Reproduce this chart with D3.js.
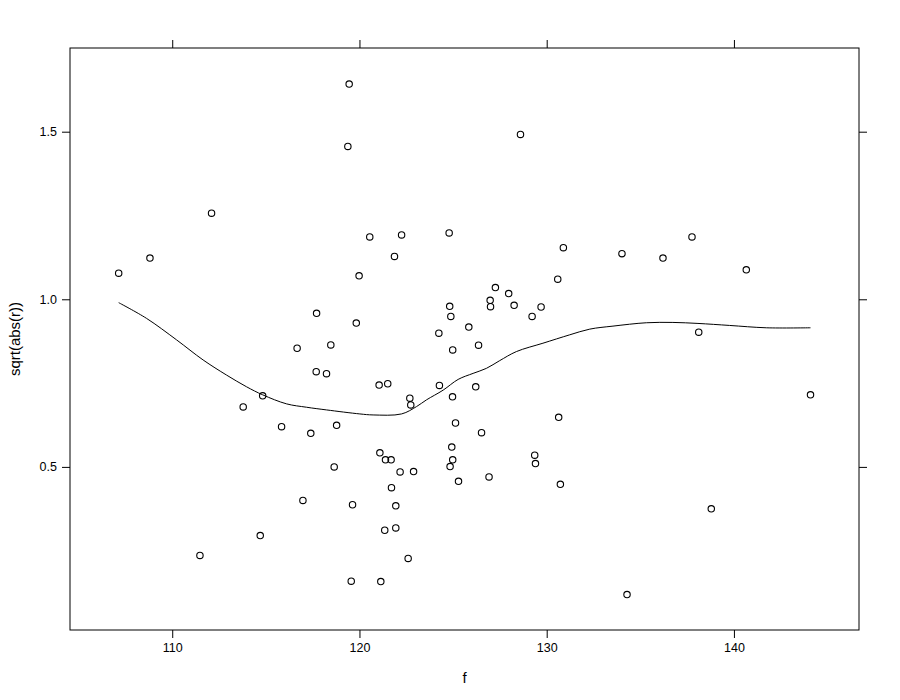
<!DOCTYPE html>
<html>
<head>
<meta charset="utf-8">
<script src="https://cdn.jsdelivr.net/npm/d3@7"></script>
<style>
  html, body { margin: 0; padding: 0; background: #fff; }
  svg { display: block; font-family: "Liberation Sans", Arial, Helvetica, sans-serif; }
</style>
</head>
<body>
<svg id="chart" width="900" height="700"></svg>
<script>
// ---- data ----
const fValues = [107.14,108.81,112.10,113.79,114.83,111.48,114.70,115.84,116.67,116.98,
  117.40,117.71,117.69,118.24,118.47,118.65,118.78,119.45,119.38,119.63,
  119.56,119.83,119.98,120.55,122.25,124.79,121.87,121.05,121.51,121.09,
  121.39,121.69,121.14,121.35,121.94,121.94,121.71,122.17,122.89,122.60,
  122.69,122.74,124.24,124.27,124.82,124.88,124.98,124.97,125.13,124.93,
  124.98,124.84,125.29,125.84,126.36,126.21,126.52,126.92,126.98,127.00,
  127.26,127.97,128.26,128.60,129.22,129.70,129.36,129.40,130.59,130.89,
  130.64,130.73,134.02,134.29,136.21,137.76,138.12,138.79,140.66,144.09];
const rValues = [1.078,1.123,1.257,0.679,0.712,0.236,0.295,0.620,0.854,0.400,
  0.600,0.958,0.784,0.778,0.864,0.500,0.624,1.642,1.456,0.387,
  0.159,0.929,1.070,1.186,1.192,1.198,1.128,0.744,0.748,0.542,
  0.521,0.521,0.158,0.311,0.318,0.384,0.438,0.485,0.486,0.227,
  0.705,0.685,0.899,0.743,0.979,0.949,0.849,0.709,0.631,0.559,
  0.521,0.501,0.457,0.917,0.863,0.739,0.602,0.470,0.997,0.978,
  1.035,1.017,0.982,1.492,0.949,0.977,0.535,0.510,1.060,1.154,
  0.648,0.448,1.136,0.119,1.123,1.186,0.902,0.375,1.088,0.715];

// smooth (loess) curve
const smoothF = [107.14,108.63,110.23,111.65,112.90,113.97,114.83,116.11,117.17,118.24,
  120.02,120.73,122.25,123.05,123.58,124.47,125.27,126.07,126.78,127.49,
  128.38,129.80,131.23,132.30,133.54,135.32,136.74,138.08,139.77,141.73,144.09];
const smoothR = [0.990,0.943,0.879,0.819,0.774,0.739,0.715,0.688,0.678,0.670,
  0.658,0.655,0.658,0.680,0.700,0.729,0.761,0.779,0.794,0.817,
  0.844,0.869,0.894,0.911,0.920,0.930,0.931,0.928,0.922,0.915,0.915];

const xTicks = [110, 120, 130, 140];
const yTicks = [0.5, 1.0, 1.5];
const xLabel = "f";
const yLabel = "sqrt(abs(r))";

// ---- layout ----
const svg = d3.select("#chart");
const L = 70, R = 859, T = 48, B = 630;
const x = d3.scaleLinear().domain([104.54, 146.68]).range([L, R]);
const y = d3.scaleLinear().domain([0.0134, 1.7497]).range([B, T]);
const ink = "#000";
const tickLen = 8;

const axStyle = g => {
  g.select(".domain").remove();
  g.selectAll(".tick line").attr("stroke", ink).attr("stroke-width", 1);
  g.selectAll(".tick text").attr("fill", ink).style("font-size", "12.5px")
    .style("font-family", "'Liberation Sans', Arial, sans-serif");
};

svg.append("g").attr("transform", `translate(0,${B})`)
  .call(d3.axisBottom(x).tickValues(xTicks).tickFormat(d3.format("d")).tickSizeInner(tickLen).tickSizeOuter(0).tickPadding(5))
  .call(axStyle);
svg.append("g").attr("transform", `translate(0,${T})`)
  .call(d3.axisTop(x).tickValues(xTicks).tickFormat("").tickSizeInner(tickLen).tickSizeOuter(0))
  .call(axStyle);
svg.append("g").attr("transform", `translate(${L},0)`)
  .call(d3.axisLeft(y).tickValues(yTicks).tickFormat(d3.format(".1f")).tickSizeInner(tickLen).tickSizeOuter(0).tickPadding(5))
  .call(axStyle);
svg.append("g").attr("transform", `translate(${R},0)`)
  .call(d3.axisRight(y).tickValues(yTicks).tickFormat("").tickSizeInner(tickLen).tickSizeOuter(0))
  .call(axStyle);

// panel frame
svg.append("rect").attr("x", L).attr("y", T).attr("width", R - L).attr("height", B - T)
  .attr("fill", "none").attr("stroke", ink).attr("stroke-width", 1);

// points
svg.append("g").selectAll("circle").data(fValues.map((f, i) => [f, rValues[i]]))
  .join("circle")
  .attr("cx", d => x(d[0])).attr("cy", d => y(d[1])).attr("r", 3.2)
  .attr("fill", "none").attr("stroke", ink).attr("stroke-width", 1.1);

// smooth line
svg.append("path")
  .datum(smoothF.map((f, i) => [f, smoothR[i]]))
  .attr("fill", "none").attr("stroke", ink).attr("stroke-width", 1)
  .attr("d", d3.line().x(d => x(d[0])).y(d => y(d[1])).curve(d3.curveCatmullRom.alpha(0.5)));

// axis titles
svg.append("text").attr("x", (L + R) / 2).attr("y", 683).attr("text-anchor", "middle")
  .style("font-size", "15px").attr("fill", ink).text(xLabel);
svg.append("text").attr("transform", `translate(20,${(T + B) / 2}) rotate(-90)`)
  .attr("text-anchor", "middle").style("font-size", "15px").attr("fill", ink).text(yLabel);
</script>
</body>
</html>
